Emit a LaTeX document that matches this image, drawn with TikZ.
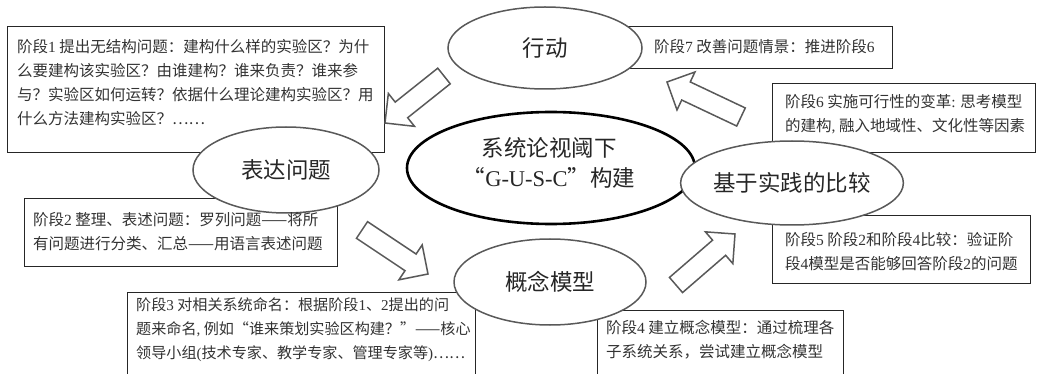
\documentclass[tikz,border=0pt]{standalone}
\usepackage{fontspec}
\setmainfont{Liberation Serif}
\newfontfamily\cjk{Noto Sans CJK SC}
\newfontfamily\lat{Liberation Serif}
\usetikzlibrary{calc,shapes.geometric}
\newcommand\dg[1]{{\lat #1}}
\newcommand\hollowarrow[3]{%
  \coordinate (#3-t) at #1;
  \coordinate (#3-h) at #2;
  \coordinate (#3-b) at ($(#3-h)!21pt!(#3-t)$);
  \draw[blockarrow] ($(#3-t)!10pt!90:(#3-h)$) -- ($(#3-b)!10pt!90:(#3-h)$) -- ($(#3-b)!21pt!90:(#3-h)$) -- (#3-h) -- ($(#3-b)!21pt!-90:(#3-h)$) -- ($(#3-b)!10pt!-90:(#3-h)$) -- ($(#3-t)!10pt!-90:(#3-h)$) -- cycle;}
\begin{document}
\begin{tikzpicture}[x=1pt,y=-1pt,
  box/.style={draw=black!85, line width=1.3pt, fill=white, inner sep=0pt, anchor=north west},
  txt/.style={anchor=north west, inner sep=0pt, align=left, font=\cjk\fontsize{15.5}{24}\selectfont, text=black!80},
  ell/.style={ellipse, draw=black!65, line width=1.5pt, fill=white, inner sep=0pt, font=\cjk\fontsize{22.5}{30}\selectfont, text=black!85},
  blockarrow/.style={draw=black!65, line width=1.5pt, fill=white, line join=miter}]
\useasboundingbox (0,0) rectangle (1039,374);
\clip (0,0) rectangle (1039,374);
% boxes
\node[box, minimum width=377pt, minimum height=126pt] (b1) at (7,26) {};
\node[box, minimum width=264pt, minimum height=42pt] (b7) at (628,26) {};
\node[box, minimum width=263pt, minimum height=69pt] (b6) at (772,83) {};
\node[box, minimum width=313pt, minimum height=68pt] (b2) at (24,198) {};
\node[box, minimum width=258pt, minimum height=68pt] (b5) at (772,215) {};
\node[box, minimum width=348pt, minimum height=100pt] (b3) at (127,292) {};
\node[box, minimum width=246pt, minimum height=80pt] (b4) at (597,310) {};
% ellipses
\node[ell, minimum width=194pt, minimum height=82pt] (act) at (545,48) {行动};
\node[ell, draw=black, line width=2.6pt, minimum width=288pt, minimum height=112pt] (core) at (551,168) {};
\node[inner sep=0pt, align=center, font=\cjk\fontsize{22.5}{30}\selectfont, text=black!85] (coret) at (549,163) {系统论视阈下\\“{\lat G-U-S-C}”构建};
\node[ell, minimum width=186pt, minimum height=86pt] (expr) at (286,170) {表达问题};
\node[ell, minimum width=200pt, minimum height=84pt] (cmp) at (792,183) {基于实践的比较};
\node[ell, minimum width=192pt, minimum height=86pt] (model) at (550,282) {概念模型};
% box texts
\node[txt] (t1) at (17,39) {阶段\dg{1} 提出无结构问题：建构什么样的实验区？为什\\么要建构该实验区？由谁建构？谁来负责？谁来参\\与？实验区如何运转？依据什么理论建构实验区？用\\什么方法建构实验区？……};
\node[txt] (t7) at (654,39) {阶段\dg{7} 改善问题情景：推进阶段\dg{6}};
\node[txt] (t6) at (785,94) {阶段\dg{6} 实施可行性的变革\dg{:} 思考模型\\的建构\dg{,} 融入地域性、文化性等因素};
\node[txt] (t2) at (33,212) {阶段\dg{2} 整理、表述问题：罗列问题——将所\\有问题进行分类、汇总——用语言表述问题};
\node[txt] (t5) at (785,232) {阶段\dg{5} 阶段\dg{2}和阶段\dg{4}比较：验证阶\\段\dg{4}模型是否能够回答阶段\dg{2}的问题};
\node[txt, font=\cjk\fontsize{15.1}{24}\selectfont] (t3) at (136,297) {阶段\dg{3} 对相关系统命名：根据阶段\dg{1}、\dg{2}提出的问\\题来命名\dg{,} 例如“谁来策划实验区构建？”——核心\\领导小组\dg{(}技术专家、教学专家、管理专家等\dg{)}……};
\node[txt] (t4) at (606,320) {阶段\dg{4} 建立概念模型：通过梳理各\\子系统关系，尝试建立概念模型};
% hollow arrows
\hollowarrow{(444,76)}{(385,123)}{a1}
\hollowarrow{(362,230)}{(428,274)}{a2}
\hollowarrow{(676,285)}{(735,234)}{a3}
\hollowarrow{(741,117)}{(667,82)}{a4}
\end{tikzpicture}
\end{document}
